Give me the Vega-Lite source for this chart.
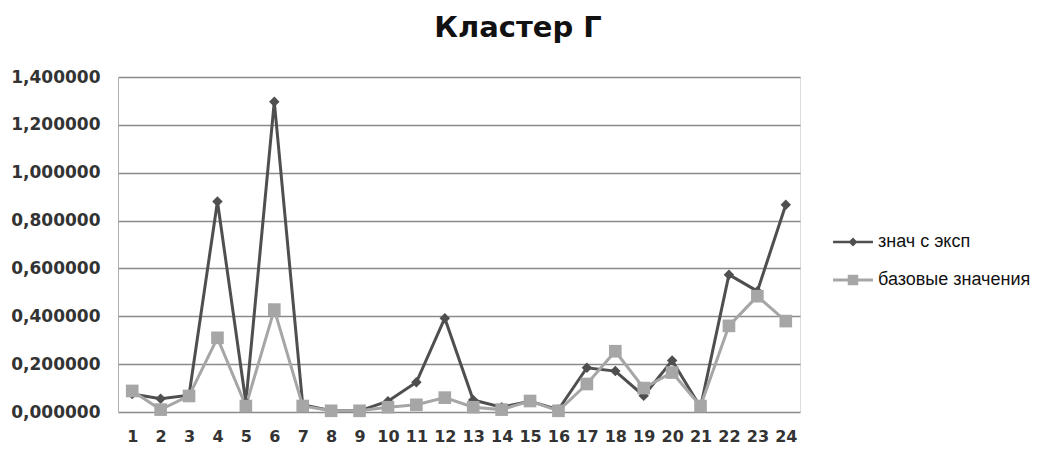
{
  "$schema": "https://vega.github.io/schema/vega-lite/v6.json",
  "autosize": {"type": "none"},
  "padding": {"left": 118, "top": 77, "right": 262, "bottom": 41},
  "width": 682,
  "height": 335,
  "background": "white",
  "title": {
    "text": "Кластер Г",
    "font": "DejaVu Sans",
    "fontSize": 29,
    "fontWeight": "bold",
    "color": "#111111",
    "anchor": "middle",
    "frame": "group",
    "dx": 59,
    "baseline": "alphabetic",
    "offset": 2
  },
  "data": {
    "values": [
      {"x": 1, "s": "знач с эксп", "v": 0.075},
      {"x": 2, "s": "знач с эксп", "v": 0.055},
      {"x": 3, "s": "знач с эксп", "v": 0.07},
      {"x": 4, "s": "знач с эксп", "v": 0.88},
      {"x": 5, "s": "знач с эксп", "v": 0.04},
      {"x": 6, "s": "знач с эксп", "v": 1.297},
      {"x": 7, "s": "знач с эксп", "v": 0.03},
      {"x": 8, "s": "знач с эксп", "v": 0.005},
      {"x": 9, "s": "знач с эксп", "v": 0.005},
      {"x": 10, "s": "знач с эксп", "v": 0.045},
      {"x": 11, "s": "знач с эксп", "v": 0.124},
      {"x": 12, "s": "знач с эксп", "v": 0.392},
      {"x": 13, "s": "знач с эксп", "v": 0.05},
      {"x": 14, "s": "знач с эксп", "v": 0.02},
      {"x": 15, "s": "знач с эксп", "v": 0.045},
      {"x": 16, "s": "знач с эксп", "v": 0.01},
      {"x": 17, "s": "знач с эксп", "v": 0.185},
      {"x": 18, "s": "знач с эксп", "v": 0.171},
      {"x": 19, "s": "знач с эксп", "v": 0.068},
      {"x": 20, "s": "знач с эксп", "v": 0.215},
      {"x": 21, "s": "знач с эксп", "v": 0.02},
      {"x": 22, "s": "знач с эксп", "v": 0.574},
      {"x": 23, "s": "знач с эксп", "v": 0.505},
      {"x": 24, "s": "знач с эксп", "v": 0.866},
      {"x": 1, "s": "базовые значения", "v": 0.088},
      {"x": 2, "s": "базовые значения", "v": 0.01},
      {"x": 3, "s": "базовые значения", "v": 0.067},
      {"x": 4, "s": "базовые значения", "v": 0.31},
      {"x": 5, "s": "базовые значения", "v": 0.025},
      {"x": 6, "s": "базовые значения", "v": 0.428},
      {"x": 7, "s": "базовые значения", "v": 0.025},
      {"x": 8, "s": "базовые значения", "v": 0.005},
      {"x": 9, "s": "базовые значения", "v": 0.005},
      {"x": 10, "s": "базовые значения", "v": 0.02},
      {"x": 11, "s": "базовые значения", "v": 0.03},
      {"x": 12, "s": "базовые значения", "v": 0.06},
      {"x": 13, "s": "базовые значения", "v": 0.02},
      {"x": 14, "s": "базовые значения", "v": 0.01},
      {"x": 15, "s": "базовые значения", "v": 0.046},
      {"x": 16, "s": "базовые значения", "v": 0.005},
      {"x": 17, "s": "базовые значения", "v": 0.117},
      {"x": 18, "s": "базовые значения", "v": 0.254},
      {"x": 19, "s": "базовые значения", "v": 0.1},
      {"x": 20, "s": "базовые значения", "v": 0.165},
      {"x": 21, "s": "базовые значения", "v": 0.025},
      {"x": 22, "s": "базовые значения", "v": 0.36},
      {"x": 23, "s": "базовые значения", "v": 0.484},
      {"x": 24, "s": "базовые значения", "v": 0.38}
    ]
  },
  "encoding": {
    "x": {
      "field": "x",
      "type": "ordinal",
      "title": null,
      "scale": {"type": "point", "padding": 0.5},
      "axis": {
        "labelAngle": 0,
        "domain": false,
        "ticks": false,
        "grid": false,
        "labelFont": "DejaVu Sans",
        "labelFontWeight": "bold",
        "labelFontSize": 16,
        "labelColor": "#333333",
        "labelPadding": 16
      }
    },
    "y": {
      "field": "v",
      "type": "quantitative",
      "title": null,
      "scale": {"domain": [0, 1.4], "nice": false, "zero": true},
      "axis": {
        "values": [0, 0.2, 0.4, 0.6, 0.8, 1.0, 1.2, 1.4],
        "labelExpr": "replace(format(datum.value, '.6f'), '.', ',')",
        "domain": true,
        "domainColor": "#b0b0b0",
        "domainWidth": 1,
        "ticks": false,
        "grid": true,
        "gridColor": "#8a8a8a",
        "gridWidth": 1.5,
        "labelFont": "DejaVu Sans",
        "labelFontWeight": "bold",
        "labelFontSize": 17,
        "labelColor": "#333333",
        "labelPadding": 18
      }
    },
    "color": {
      "field": "s",
      "type": "nominal",
      "sort": ["знач с эксп", "базовые значения"],
      "scale": {"domain": ["знач с эксп", "базовые значения"], "range": ["#4f4f4f", "#a6a6a6"]},
      "legend": {
        "title": null,
        "orient": "none",
        "legendX": 720,
        "legendY": 150,
        "padding": 0,
        "symbolSize": 900,
        "rowPadding": 14,
        "labelOffset": 10,
        "labelFont": "Liberation Sans",
        "labelFontSize": 18,
        "labelColor": "#111111",
        "encode": {
          "symbols": {
            "update": {
              "shape": {"signal": "indexof(datum.label, 'эксп') >= 0 ? 'M-1.33,-0.08H1.33V0.08H-1.33Z M0,-0.3L0.3,0L0,0.3L-0.3,0Z' : 'M-1.33,-0.1H1.33V0.1H-1.33Z M-0.35,-0.35H0.35V0.35H-0.35Z'"},
              "fill": {"signal": "indexof(datum.label, 'эксп') >= 0 ? '#4f4f4f' : '#a6a6a6'"},
              "stroke": {"value": "transparent"},
              "strokeWidth": {"value": 0},
              "opacity": {"value": 1},
              "fillOpacity": {"value": 1}
            }
          }
        }
      }
    }
  },
  "layer": [
    {"mark": {"type": "line", "strokeWidth": 3}},
    {
      "transform": [{"filter": "datum.s === 'знач с эксп'"}],
      "mark": {"type": "point", "filled": true, "opacity": 1, "shape": "diamond", "size": 110}
    },
    {
      "transform": [{"filter": "datum.s === 'базовые значения'"}],
      "mark": {"type": "point", "filled": true, "opacity": 1, "shape": "square", "size": 160}
    }
  ]
}
